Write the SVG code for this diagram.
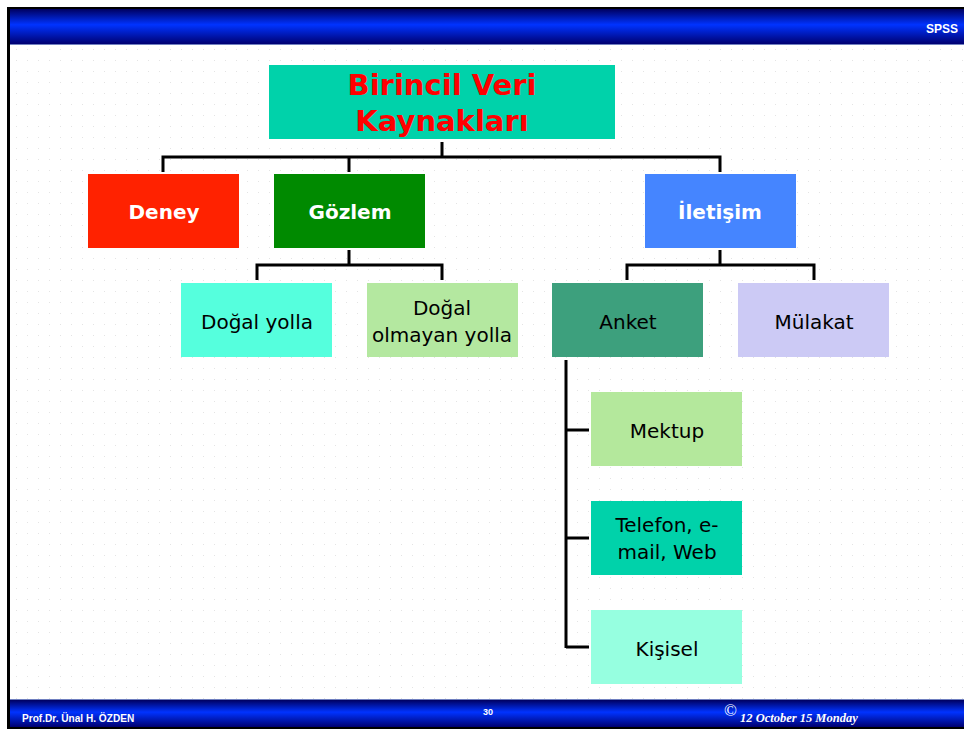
<svg xmlns="http://www.w3.org/2000/svg" width="964" height="729" viewBox="0 0 964 729">
<defs>
<linearGradient id="bar" x1="0" y1="0" x2="0" y2="1">
<stop offset="0" stop-color="#000060"/>
<stop offset="0.45" stop-color="#0033FF"/>
<stop offset="1" stop-color="#000070"/>
</linearGradient>
<pattern id="dots" width="11" height="11" patternUnits="userSpaceOnUse">
<rect x="5" y="5" width="1" height="1" fill="#e4e4e4"/>
</pattern>
<style>
.box{stroke:none}
.lbl{font-family:"DejaVu Sans",Verdana,sans-serif;font-size:20px;fill:#000;text-anchor:middle}
.blbl{font-family:"DejaVu Sans",Verdana,sans-serif;font-size:20px;font-weight:bold;fill:#fff;text-anchor:middle}
.con{fill:none;stroke:#000;stroke-width:3}
</style>
</defs>
<rect x="0" y="0" width="964" height="729" fill="#fff"/>
<rect x="10" y="44" width="954" height="655" fill="url(#dots)"/>
<rect x="7" y="7" width="957" height="3" fill="#000"/>
<rect x="7" y="7" width="3" height="722" fill="#000"/>
<rect x="10" y="9" width="954" height="35" fill="url(#bar)"/>
<rect x="10" y="44" width="954" height="1" fill="#7080c0"/>
<text x="958" y="33" font-family="'Liberation Sans',Arial,sans-serif" font-size="12" font-weight="bold" fill="#fff" text-anchor="end">SPSS</text>
<rect x="10" y="699" width="954" height="1" fill="#7080c0"/>
<rect x="10" y="700" width="954" height="27" fill="url(#bar)"/>
<rect x="7" y="727" width="957" height="2" fill="#000"/>
<text x="22" y="722" font-family="'Liberation Sans',Arial,sans-serif" font-size="11" font-weight="bold" fill="#fff" transform="translate(22 0) scale(0.92 1) translate(-22 0)">Prof.Dr. Ünal H. ÖZDEN</text>
<text x="483" y="715" font-family="'Liberation Sans',Arial,sans-serif" font-size="9" font-weight="bold" fill="#fff">30</text>
<text x="724" y="716" font-family="'Liberation Serif','Times New Roman',serif" font-size="17" fill="#fff">©</text>
<text x="740" y="722" font-family="'Liberation Serif','Times New Roman',serif" font-size="12.5" font-weight="bold" font-style="italic" fill="#fff">12 October 15 Monday</text>

<g id="connectors">
<path class="con" d="M442,142 V157 M163,172 V157 H720 V172 M349,157 V172"/>
<path class="con" d="M349,250 V265 M257,280 V265 H442 V280"/>
<path class="con" d="M720,250 V265 M627,280 V265 H814 V280"/>
<path class="con" d="M566,360 V648 M566,430 H589 M566,538 H589 M566,647 H589"/>
</g>

<g id="root">
<rect class="box" x="269" y="65" width="346" height="74" fill="#00D2AA"/>
<text x="442" y="95" font-family="'DejaVu Sans',Verdana,sans-serif" font-size="29" font-weight="bold" fill="#FF0000" text-anchor="middle">Birincil Veri</text>
<text x="442" y="131" font-family="'DejaVu Sans',Verdana,sans-serif" font-size="29" font-weight="bold" fill="#FF0000" text-anchor="middle">Kaynakları</text>
</g>
<g id="deney">
<rect class="box" x="88" y="174" width="151" height="74" fill="#FF2200"/>
<text class="blbl" x="164" y="219">Deney</text>
</g>
<g id="gozlem">
<rect class="box" x="274" y="174" width="151" height="74" fill="#008A00"/>
<text class="blbl" x="350" y="219">Gözlem</text>
</g>
<g id="iletisim">
<rect class="box" x="645" y="174" width="151" height="74" fill="#4585FF"/>
<text class="blbl" x="720" y="219">İletişim</text>
</g>
<g id="dogal">
<rect class="box" x="181" y="283" width="151" height="74" fill="#55FFDD"/>
<text class="lbl" x="257" y="329">Doğal yolla</text>
</g>
<g id="dogal-olmayan">
<rect class="box" x="367" y="283" width="151" height="74" fill="#B4E8A0"/>
<text class="lbl" x="442" y="315">Doğal</text>
<text class="lbl" x="442" y="342">olmayan yolla</text>
</g>
<g id="anket">
<rect class="box" x="552" y="283" width="151" height="74" fill="#3DA07D"/>
<text class="lbl" x="628" y="329">Anket</text>
</g>
<g id="mulakat">
<rect class="box" x="738" y="283" width="151" height="74" fill="#CCCAF5"/>
<text class="lbl" x="814" y="329">Mülakat</text>
</g>
<g id="mektup">
<rect class="box" x="591" y="392" width="151" height="74" fill="#B4E89C"/>
<text class="lbl" x="667" y="438">Mektup</text>
</g>
<g id="telefon">
<rect class="box" x="591" y="501" width="151" height="74" fill="#00D2AA"/>
<text class="lbl" x="667" y="532">Telefon, e-</text>
<text class="lbl" x="667" y="559">mail, Web</text>
</g>
<g id="kisisel">
<rect class="box" x="591" y="610" width="151" height="74" fill="#96FFE0"/>
<text class="lbl" x="667" y="656">Kişisel</text>
</g>
</svg>
